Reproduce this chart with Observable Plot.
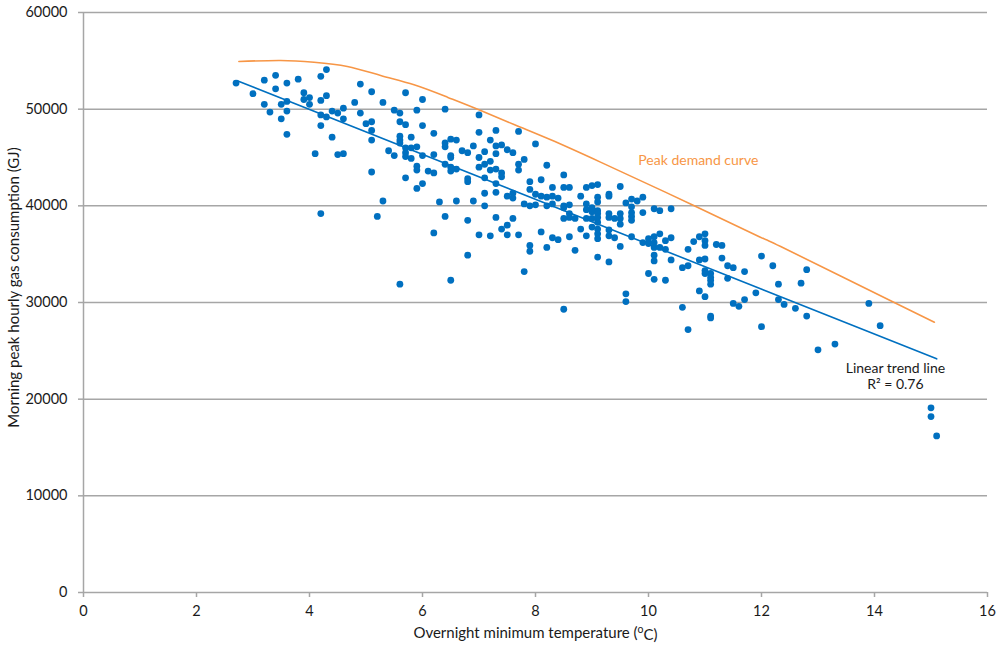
<!DOCTYPE html>
<html><head><meta charset="utf-8">
<script src="https://cdn.jsdelivr.net/npm/d3@7"></script>
<script src="https://cdn.jsdelivr.net/npm/@observablehq/plot@0.6"></script>
<style>
body{margin:0;background:#fff;}
#chart svg{display:block;}
</style></head><body><div id="chart"></div>
<script>
// Overnight minimum temperature (°C) and morning peak hourly gas consumption (GJ)
const tempC = [
2.7,3.0,3.2,3.4,3.4,3.6,3.8,3.2,3.3,3.5,3.6,3.6,3.5,3.6,3.9,3.9,4.0,4.0,4.2,4.3,
4.2,4.3,4.2,4.3,4.2,4.4,4.5,4.6,4.6,4.4,4.1,4.5,4.6,4.8,4.9,4.9,5.1,5.3,5.0,5.1,
5.1,5.1,5.1,5.3,4.2,5.2,5.5,5.6,5.7,5.7,5.6,5.9,5.6,5.6,5.6,5.8,5.4,5.5,5.7,5.7,
5.7,5.8,5.9,5.8,6.0,5.9,5.9,5.7,5.9,6.0,6.4,7.0,6.0,6.2,7.0,7.3,7.7,8.0,6.4,6.4,
6.5,6.6,6.9,7.2,7.3,7.4,7.5,6.7,6.8,7.1,7.3,7.0,7.2,7.6,7.8,7.7,7.7,6.2,6.5,6.5,
6.5,6.5,6.6,6.4,6.1,6.2,7.0,7.1,7.2,7.3,7.4,7.4,7.1,6.8,6.8,6.0,7.3,7.3,7.1,7.5,
7.6,7.6,7.9,8.1,8.2,8.5,7.9,8.0,8.1,8.2,8.3,8.3,8.4,8.5,8.6,8.8,8.9,9.0,9.1,7.8,
7.9,8.0,8.2,8.3,8.5,8.6,6.9,6.6,6.3,6.4,6.8,6.2,7.0,7.2,7.5,7.7,7.3,7.5,7.6,7.4,
7.1,7.9,7.9,8.2,8.7,8.3,8.4,8.6,8.1,5.6,6.5,6.8,7.8,8.5,8.5,8.5,8.6,8.6,8.7,8.9,
9.0,9.0,8.9,9.0,9.0,9.1,9.1,9.1,9.1,9.1,9.1,9.1,9.1,9.1,9.3,9.3,9.4,9.5,9.5,9.5,
9.7,9.7,9.7,9.7,8.8,8.9,9.3,9.3,9.3,9.3,9.4,9.5,9.7,9.9,10.0,10.0,10.1,10.1,10.1,10.1,
10.1,10.2,10.2,10.3,10.3,10.4,10.4,10.1,10.2,10.4,9.5,9.6,9.7,9.8,9.9,9.9,8.9,9.1,9.3,10.0,
10.1,10.3,9.6,9.6,10.6,10.7,10.7,10.8,10.9,11.0,10.9,11.0,11.0,11.0,10.9,11.0,11.0,11.0,11.1,11.1,
11.1,11.2,11.3,11.3,11.4,11.5,11.4,11.7,11.5,11.6,11.7,11.9,12.0,12.2,12.3,11.1,11.1,10.6,10.7,12.0,
12.8,12.7,12.3,12.4,12.6,12.8,13.0,13.3,13.9,14.1,15.0,15.0,15.1,11.1
];
const gasGJ = [
52700,51600,53000,53500,52100,52700,53100,50500,49700,50500,50800,49800,49000,47400,51700,51000,51200,50500,53400,54100,
50900,51400,49400,49200,48300,49800,49600,50100,49000,47100,45400,45300,45400,50700,52600,49600,51800,50700,48500,48700,
47800,46800,43500,40500,39200,38900,49900,49600,51700,48400,48700,49900,47200,46800,46500,47100,45700,45200,46000,45500,
45100,46000,46100,44900,45200,44100,43700,42900,41800,51000,50000,49400,48300,47500,47600,47800,47700,46400,46500,46100,
46900,46800,46200,46800,46200,46300,45800,45700,45500,45600,45400,45000,44600,45500,44800,44300,43700,45300,45200,45000,
44000,43600,43800,44300,43600,43400,44000,44300,43700,43800,43400,43000,42900,42800,42500,42300,42300,41400,41300,41000,
41300,40800,42500,42700,44200,43200,41700,41200,41000,40900,41900,41000,40800,41900,41900,41000,41900,42100,42200,40200,
40000,40100,40000,40200,40000,40100,40500,40500,40400,38900,38500,37200,37000,36900,37000,37000,38800,38000,38700,37600,
40000,35900,35300,35700,35400,36700,36500,36800,37300,31900,32300,34900,33200,29300,39800,38700,39200,38800,38700,39600,
39800,39400,38700,38700,37800,40900,40400,39500,39200,38800,38300,37600,37100,36600,39200,38800,38700,39200,38700,38100,
39900,39300,38900,38500,37600,36900,41200,41000,37500,36900,36700,35800,36800,36200,36600,36100,36800,36200,35700,34900,
34300,37100,35700,36400,35500,36700,34400,39700,39500,39700,42000,40300,40700,40500,40900,39300,40200,34700,34200,33000,
32400,32300,30900,30100,33600,33800,35500,36300,36800,37100,34400,34500,36400,35900,31200,30600,33300,33000,32600,32300,
31900,36000,35900,34600,33800,33600,32500,33200,29900,29600,30300,31000,34800,33800,31900,28600,28400,29500,27200,27500,
33400,32000,30300,29800,29400,28600,25100,25700,29900,27600,19100,18200,16200,33000
];
// Peak demand curve
const peakT = [2.75, 3.49, 4.08, 4.67, 5.26, 5.85, 6.44, 7.03, 7.62, 8.27, 9.15, 10.8, 11.98, 12.34, 14.34, 15.06];
const peakG = [54930, 55040, 54860, 54420, 53480, 52520, 51240, 49860, 48410, 46830, 44520, 40040, 36760, 35790, 30030, 27960];
// Linear trend line end points
const trendT = [2.72, 15.1];
const trendG = [52950, 24170];
// Axis ticks and texts
const xTicks = [0, 2, 4, 6, 8, 10, 12, 14, 16];
const yTicks = [0, 10000, 20000, 30000, 40000, 50000, 60000];
const xTitle = "Overnight minimum temperature (oC)";
const yTitle = "Morning peak hourly gas consumption (GJ)";
const peakLabel = "Peak demand curve";
const trendLabel = "Linear trend line\nR\u00b2 = 0.76";

const points = tempC.map((t, i) => ({t, g: gasGJ[i]}));
const peak = peakT.map((t, i) => ({t, g: peakG[i]}));
const trend = trendT.map((t, i) => ({t, g: trendG[i]}));

const blue = "#0070c0", orange = "#f79646", grid = "#a6a6a6";

const chart = Plot.plot({
  width: 1000, height: 652,
  marginLeft: 83, marginRight: 13, marginTop: 12, marginBottom: 60,
  style: {fontFamily: "Lato, 'Open Sans', sans-serif", fontSize: "14.5px", color: "#1a1a1a", background: "#fff"},
  x: {domain: [0, 16]},
  y: {domain: [0, 60000]},
  marks: [
    Plot.gridY(yTicks, {stroke: grid, strokeOpacity: 1, strokeWidth: 1.5}),
    Plot.ruleX([0], {stroke: grid, strokeWidth: 1.5}),
    Plot.axisY(yTicks, {tickSize: 5, tickPadding: 11, stroke: grid, strokeWidth: 1.5, tickFormat: d3.format("d"), label: null}),
    Plot.axisX(xTicks, {tickSize: 5, tickPadding: 8, stroke: grid, strokeWidth: 1.5, label: null}),
    Plot.line(peak, {x: "t", y: "g", stroke: orange, strokeWidth: 1.6, curve: "natural"}),
    Plot.dot(points, {x: "t", y: "g", r: 3.4, fill: blue, stroke: "none"}),
    Plot.line(trend, {x: "t", y: "g", stroke: blue, strokeWidth: 1.6}),
    Plot.text([peakLabel], {x: 9.82, y: 44700, text: d => d, textAnchor: "start", fill: orange, fontSize: 14}),
    Plot.text([trendLabel], {x: 14.37, y: 22450, text: d => d, textAnchor: "middle", fill: "#1a1a1a", fontSize: 14, lineHeight: 1.15}),
    Plot.text([xTitle], {frameAnchor: "bottom", dy: 45, text: d => d, fontSize: 15, className: "xtitle"}),
    Plot.text([yTitle], {frameAnchor: "left", dx: -69, dy: -15, rotate: -90, textAnchor: "middle", text: d => d, fontSize: 15})
  ]
});
document.getElementById("chart").appendChild(chart);

// superscript "o" in the x title
d3.select(chart).selectAll(".xtitle text").each(function() {
  const el = d3.select(this);
  el.text(null);
  el.append("tspan").text("Overnight minimum temperature (");
  el.append("tspan").attr("dy", "-0.45em").attr("font-size", "0.7em").text("o");
  el.append("tspan").attr("dy", "0.45em").text("C)");
});
</script>
</body></html>
